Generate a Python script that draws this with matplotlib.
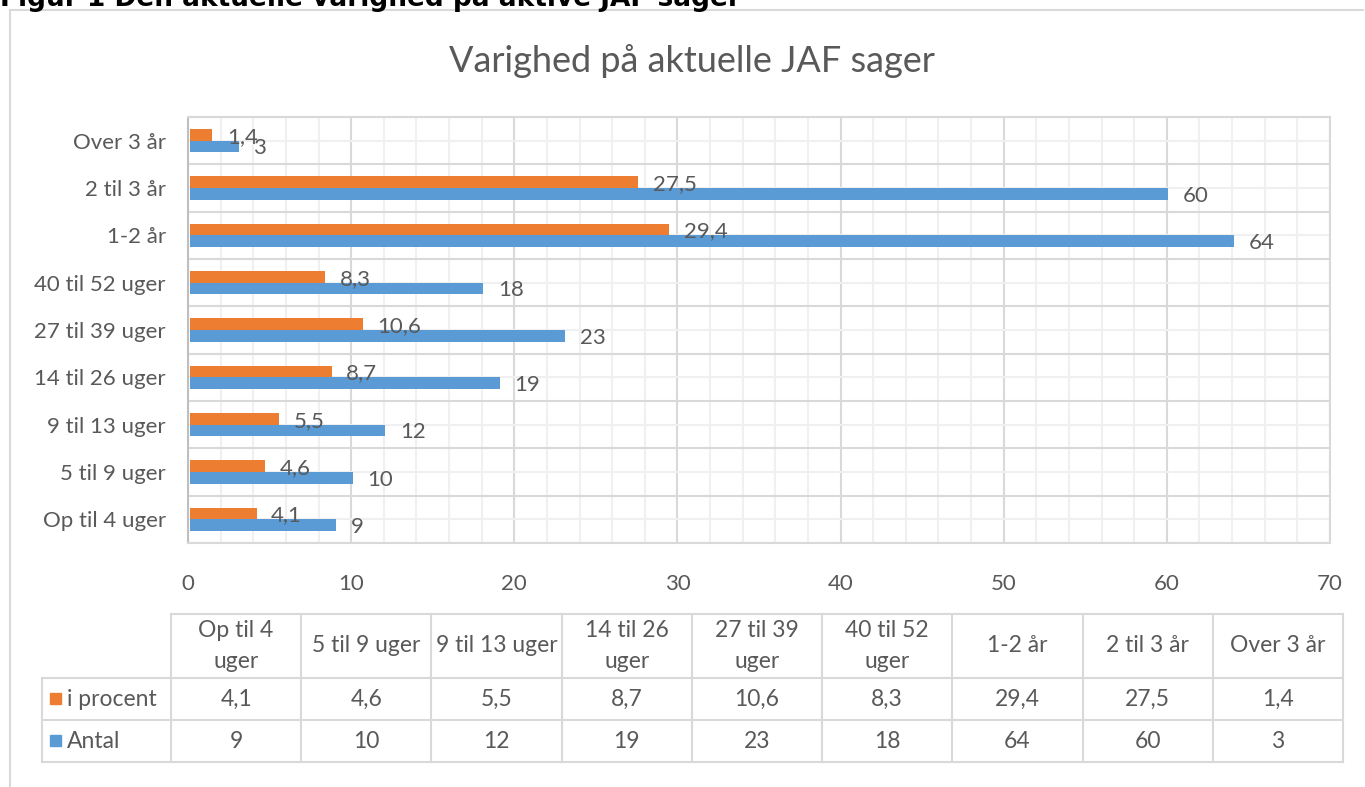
import matplotlib
matplotlib.use("Agg")
import matplotlib.pyplot as plt
import numpy as np

# data
categories = ["Op til 4 uger", "5 til 9 uger", "9 til 13 uger", "14 til 26 uger",
              "27 til 39 uger", "40 til 52 uger", "1-2 år", "2 til 3 år", "Over 3 år"]
header_labels = ["Op til 4\nuger", "5 til 9 uger", "9 til 13 uger", "14 til 26\nuger",
                 "27 til 39\nuger", "40 til 52\nuger", "1-2 år", "2 til 3 år", "Over 3 år"]
procent = [4.1, 4.6, 5.5, 8.7, 10.6, 8.3, 29.4, 27.5, 1.4]
antal = [9, 10, 12, 19, 23, 18, 64, 60, 3]
procent_txt = ["4,1", "4,6", "5,5", "8,7", "10,6", "8,3", "29,4", "27,5", "1,4"]
antal_txt = [str(v) for v in antal]
series_names = ["i procent", "Antal"]

ORANGE = "#ED7D31"
BLUE = "#5B9BD5"
TXT = "#595959"
GRID = "#D9D9D9"
MINOR = "#F0F0F0"
FS = 16

plt.rcParams['font.family'] = ['Lato', 'DejaVu Sans']

W, H = 1365, 787
fig = plt.figure(figsize=(W / 100, H / 100), dpi=100, facecolor='white')

# overlay in pixel coordinates for frame, caption and table
ov = fig.add_axes([0, 0, 1, 1])
ov.set_xlim(0, W)
ov.set_ylim(H, 0)
ov.axis('off')
ov.plot([10, 10], [10, H], color=GRID, lw=1.5)
ov.plot([10, 1363], [10, 10], color=GRID, lw=1.5)
ov.text(0, 6, "Figur 1 Den aktuelle varighed på aktive JAF sager", family='DejaVu Sans',
        weight='bold', fontsize=19, va='baseline', ha='left', color='black')
ov.text(692, 61, "Varighed på aktuelle JAF sager", fontsize=26, color=TXT,
        ha='center', va='center')

# bar chart
ax = fig.add_axes([188 / W, 1 - 543 / H, 1142 / W, 426 / H])
y = np.arange(len(categories))
h = 0.245
ax.barh(y + h / 2, procent, height=h, color=ORANGE, zorder=3, left=0.1)
ax.barh(y - h / 2, antal, height=h, color=BLUE, zorder=3, left=0.1)
for yi, v, t in zip(y, procent, procent_txt):
    ax.text(v + 1.0, yi + h / 2 - 0.04, t, fontsize=FS, color=TXT, va='center', ha='left', zorder=4)
for yi, v, t in zip(y, antal, antal_txt):
    ax.text(v + 1.0, yi - h / 2 - 0.04, t, fontsize=FS, color=TXT, va='center', ha='left', zorder=4)

ax.set_xlim(0, 70)
ax.set_ylim(-0.5, len(categories) - 0.5)
ax.set_xticks(np.arange(0, 71, 10))
ax.set_xticks(np.arange(0, 71, 2), minor=True)
ax.set_yticks(np.arange(-0.5, len(categories), 1))
ax.set_yticklabels([])
ax.set_yticks(y, minor=True)
ax.set_yticklabels(categories, minor=True)
ax.grid(which='major', color=GRID, lw=1.5, zorder=1)
ax.grid(which='minor', color=MINOR, lw=1.5, zorder=0)
ax.tick_params(which='both', length=0, colors=TXT, labelsize=FS)
ax.tick_params(axis='x', pad=22)
ax.tick_params(axis='y', which='minor', pad=16)
for s in ax.spines.values():
    s.set_color(GRID)
    s.set_linewidth(1.5)
ax.spines['left'].set_color('#BFBFBF')
ax.set_axisbelow(True)

# data table
x0, x1, lab_x = 171, 1343, 42
cw = (x1 - x0) / len(categories)
rows = [614, 678, 720, 762]
ov.plot([x0, x1], [rows[0], rows[0]], color=GRID, lw=1.5)
for r in rows[1:]:
    ov.plot([lab_x, x1], [r, r], color=GRID, lw=1.5)
ov.plot([lab_x, lab_x], [rows[1], rows[3]], color=GRID, lw=1.5)
for i in range(len(categories) + 1):
    ov.plot([x0 + i * cw] * 2, [rows[0], rows[3]], color=GRID, lw=1.5)
for i, lab in enumerate(header_labels):
    ov.text(x0 + (i + 0.5) * cw, (rows[0] + rows[1]) / 2, lab, fontsize=FS + 0.5, color=TXT,
            ha='center', va='center', linespacing=1.55)
for r, (name, col, vals) in enumerate(zip(series_names, [ORANGE, BLUE], [procent_txt, antal_txt])):
    yc = (rows[r + 1] + rows[r + 2]) / 2
    ov.add_patch(plt.Rectangle((50, yc - 6), 11, 11, color=col))
    ov.text(67, yc, name, fontsize=FS + 0.5, color=TXT, ha='left', va='center')
    for i, t in enumerate(vals):
        ov.text(x0 + (i + 0.5) * cw, yc, t, fontsize=FS + 0.5, color=TXT, ha='center', va='center')

fig.savefig("out.png", dpi=100, facecolor='white')
